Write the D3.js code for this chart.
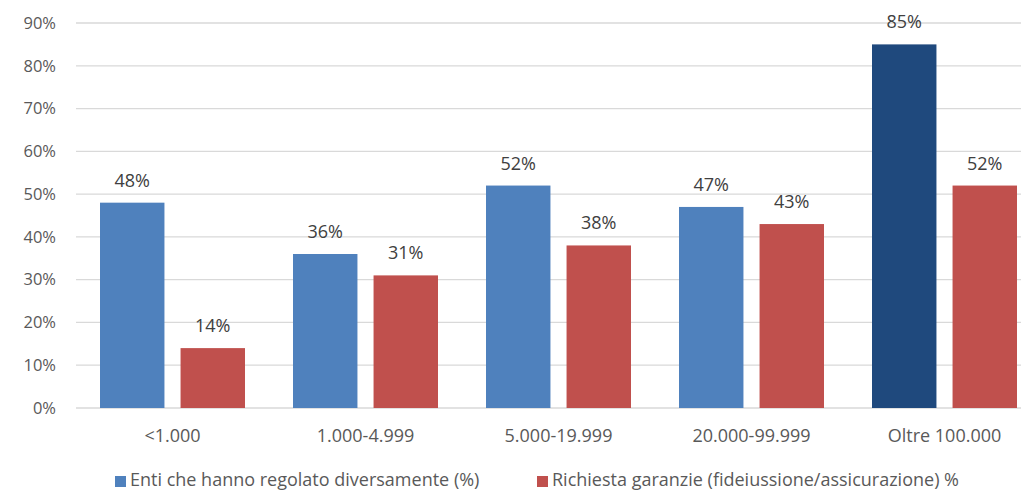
<!DOCTYPE html>
<html>
<head>
<meta charset="utf-8">
<script src="https://cdn.jsdelivr.net/npm/d3@7"></script>
<style>
  body { margin: 0; background: #fff; }
  svg { display: block; font-family: "Open Sans", "Noto Sans", sans-serif; }
</style>
</head>
<body>
<div id="chart"></div>
<script>
// data
const categories = ["<1.000", "1.000-4.999", "5.000-19.999", "20.000-99.999", "Oltre 100.000"];
const seriesNames = ["Enti che hanno regolato diversamente (%)", "Richiesta garanzie (fideiussione/assicurazione) %"];
const enti = [48, 36, 52, 47, 85];
const garanzie = [14, 31, 38, 43, 52];
const yTicks = [0, 10, 20, 30, 40, 50, 60, 70, 80, 90];

const W = 1021, H = 491;
const colors = ["#4f81bd", "#c0504d"];
const highlight = "#1f497d";

const svg = d3.select("#chart").append("svg")
    .attr("width", W)
    .attr("height", H);

const rows = categories.map((c, i) => ({cat: c, values: [enti[i], garanzie[i]]}));

// scales
const x = d3.scaleBand()
    .domain(categories)
    .range([76, 1041])
    .paddingInner(0)
    .paddingOuter(0);

const xSub = d3.scaleBand()
    .domain([0, 1])
    .range([24, x.bandwidth() - 24])
    .paddingInner(0.2);

const y = d3.scaleLinear()
    .domain([0, 90])
    .range([408, 23]);

// gridlines
svg.append("g")
  .selectAll("line")
  .data(yTicks)
  .join("line")
    .attr("x1", 76)
    .attr("x2", W)
    .attr("y1", d => y(d))
    .attr("y2", d => y(d))
    .attr("stroke", "#d9d9d9")
    .attr("stroke-width", 1.3);

// y axis labels
svg.append("g")
  .selectAll("text")
  .data(yTicks)
  .join("text")
    .attr("x", 56)
    .attr("y", d => y(d))
    .attr("dy", "0.35em")
    .attr("text-anchor", "end")
    .style("font-size", "16.5px")
    .style("fill", "#595959")
    .text(d => d + "%");

// bars
const groups = svg.append("g")
  .selectAll("g")
  .data(rows)
  .join("g")
    .attr("transform", d => `translate(${x(d.cat)},0)`);

groups.selectAll("rect")
  .data((d, gi) => d.values.map((v, s) => ({v, s, gi})))
  .join("rect")
    .attr("x", d => xSub(d.s))
    .attr("y", d => y(d.v))
    .attr("width", xSub.bandwidth())
    .attr("height", d => y(0) - y(d.v))
    .attr("fill", d => (d.s === 0 && d.gi === 4) ? highlight : colors[d.s]);

groups.selectAll("text")
  .data(d => d.values.map((v, s) => ({v, s})))
  .join("text")
    .attr("x", d => xSub(d.s) + xSub.bandwidth() / 2)
    .attr("y", d => y(d.v) - 16)
    .attr("text-anchor", "middle")
    .style("font-size", "18px")
    .style("fill", "#404040")
    .text(d => d.v + "%");

// x labels
svg.append("g")
  .selectAll("text")
  .data(categories)
  .join("text")
    .attr("x", d => x(d) + x.bandwidth() / 2)
    .attr("y", 442)
    .attr("text-anchor", "middle")
    .style("font-size", "18px")
    .style("fill", "#595959")
    .text(d => d);

// legend
const legendX = [115, 537];
const legend = svg.append("g")
  .selectAll("g")
  .data(seriesNames)
  .join("g")
    .attr("transform", (d, i) => `translate(${legendX[i]},476)`);
legend.append("rect")
    .attr("width", 11)
    .attr("height", 11)
    .attr("fill", (d, i) => colors[i]);
legend.append("text")
    .attr("x", 15)
    .attr("y", 10)
    .style("font-size", "18px")
    .style("fill", "#595959")
    .text(d => d);
</script>
</body>
</html>
